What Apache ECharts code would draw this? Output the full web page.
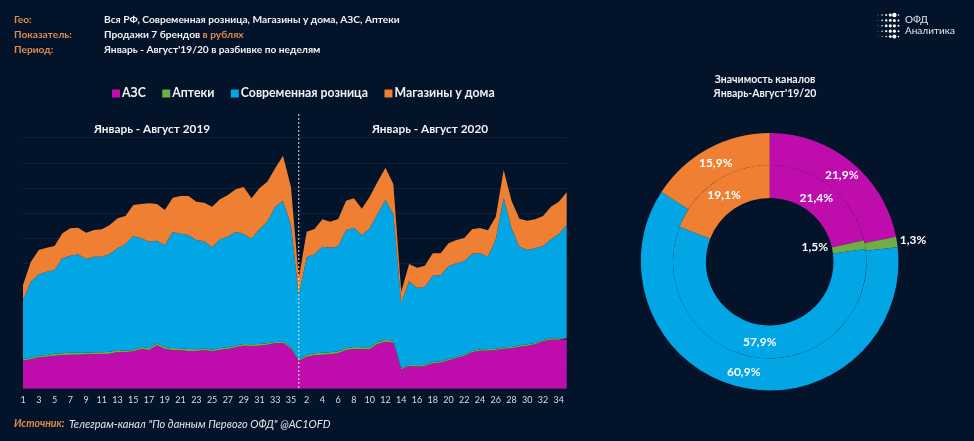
<!DOCTYPE html>
<html>
<head>
<meta charset="utf-8">
<style>
  html, body { margin: 0; padding: 0; background: #02132a; }
  #chart { width: 974px; height: 441px; }
</style>
<script src="https://cdn.jsdelivr.net/npm/echarts@6/dist/echarts.min.js"></script>
</head>
<body>
<div id="chart"></div>
<script>
const FONT = 'Lato, "Open Sans", sans-serif';
const BG = '#02132a';

const channels = ['АЗС', 'Аптеки', 'Современная розница', 'Магазины у дома'];
const channelColors = ['#bf0dad', '#70ad47', '#03a6e4', '#ee7f33'];

// 35 weeks of 2019, then 35 weeks of 2020
const weeks = [];
for (let y = 0; y < 2; y++) {
    for (let w = 1; w <= 35; w++) weeks.push(String(w));
}

// No scale on the original axis
const azs = [
    84, 88, 94, 96, 99, 100, 102, 102, 103, 104, 104, 105, 110, 109, 112, 119, 116, 130, 119, 116, 115, 113, 113, 116, 112, 117, 119, 124, 129, 128, 129, 132, 136, 137, 120,
    83, 96, 100, 102, 103, 106, 116, 119, 118, 118, 134, 141, 138, 58, 68, 66, 68, 76, 78, 85, 92, 98, 109, 114, 114, 116, 120, 121, 126, 129, 133, 142, 147, 147, 148
];
const pharmacy = [
    5, 5, 5, 5, 6, 6, 6, 6, 5, 5, 5, 6, 6, 5, 5, 6, 6, 6, 6, 6, 6, 6, 5, 5, 5, 5, 5, 5, 5, 5, 5, 4, 4, 4, 4,
    4, 6, 6, 6, 6, 6, 6, 6, 6, 6, 6, 6, 6, 4, 4, 4, 4, 4, 4, 4, 4, 4, 4, 4, 4, 4, 4, 4, 4, 4, 4, 4, 4, 4, 4
];
const retail = [
    177, 228, 244, 250, 251, 285, 291, 295, 281, 287, 287, 293, 305, 319, 342, 326, 319, 308, 305, 348, 344, 342, 328, 321, 307, 326, 332, 342, 330, 317, 344, 365, 406, 422, 367,
    194, 292, 297, 318, 314, 315, 354, 358, 336, 357, 384, 419, 380, 194, 251, 232, 234, 259, 258, 278, 280, 280, 292, 288, 278, 328, 449, 356, 296, 284, 284, 282, 297, 313, 339
];
const nearHome = [
    45, 60, 73, 72, 72, 75, 82, 80, 79, 80, 82, 87, 90, 85, 92, 103, 115, 110, 106, 103, 113, 117, 115, 116, 122, 120, 125, 127, 141, 121, 123, 120, 115, 136, 115,
    50, 77, 76, 82, 78, 82, 88, 88, 80, 95, 97, 97, 90, 35, 51, 61, 63, 67, 66, 69, 70, 70, 73, 76, 79, 68, 83, 83, 84, 87, 87, 90, 98, 97, 98
];
const areaValues = [azs, pharmacy, retail, nearHome];

const share2019 = [21.9, 1.3, 60.9, 15.9];
const share2020 = [21.4, 1.5, 57.9, 19.1];

// where the percent labels sit in the original, some are off the ring
const spots2019 = [[841.7, 175], [913, 240], [743.7, 371.7], [715.7, 162.7]];
const spots2020 = [[816.3, 198.3], [814.7, 247], [759.7, 342.3], [724, 195.3]];

const pctLabel = p => p.value.toFixed(1).replace('.', ',') + '%';

const pieSeries = (values, radius, spots) => ({
    type: 'pie',
    center: [769.7, 261.7],
    radius: radius,
    startAngle: 90,
    clockwise: true,
    silent: true,
    animation: false,
    label: { show: true, position: 'inside', formatter: pctLabel, color: '#fff', fontFamily: FONT, fontWeight: 'bold', fontSize: 12 },
    labelLine: { show: false },
    labelLayout: p => ({ x: spots[p.dataIndex][0], y: spots[p.dataIndex][1], align: 'center', verticalAlign: 'middle' }),
    data: values.map((v, i) => ({ name: channels[i], value: v, itemStyle: { color: channelColors[i] } }))
});

const headText = (x, y, text, extra) => ({
    type: 'text',
    x: x,
    y: y,
    silent: true,
    style: Object.assign({
        text: text,
        fill: '#f2f2f2',
        font: 'bold 10.2px ' + FONT,
        textVerticalAlign: 'middle',
        rich: {
            o: { fill: '#e08a4e', font: 'bold 10.2px ' + FONT }
        }
    }, extra || {})
});

const logoDots = [];
const dotSizes = [
    [0.4, 0.7, 1.0, 1.6, 2.2, 0.8],
    [0.4, 0.8, 1.2, 1.4, 1.5, 1.0],
    [0.4, 0.8, 1.4, 1.6, 1.6, 1.0],
    [0.4, 0.7, 1.1, 1.6, 1.6, 1.0],
    [0.3, 0.5, 0.8, 1.4, 2.0, 0.8]
];
dotSizes.forEach((row, r) => row.forEach((size, c) => {
    logoDots.push({
        type: 'circle',
        silent: true,
        shape: { cx: 878 + c * 4.1, cy: 15 + r * 5.4, r: size },
        style: { fill: '#fff' }
    });
}));

const chart = echarts.init(document.getElementById('chart'));
chart.setOption({
    backgroundColor: BG,
    animation: false,
    textStyle: { fontFamily: FONT },
    legend: {
        data: channels,
        left: 112,
        top: 87.5,
        padding: 0,
        icon: 'rect',
        itemWidth: 8,
        itemHeight: 8,
        itemGap: 16.5,
        selectedMode: false,
        textStyle: { color: '#f2f2f2', fontFamily: FONT, fontWeight: 'bold', fontSize: 12.3, padding: [0, 0, 0, -3] }
    },
    grid: { left: 23, right: 407.3, top: 137.7, bottom: 52.3 },
    xAxis: {
        type: 'category',
        data: weeks,
        boundaryGap: false,
        axisLine: { show: false },
        axisTick: { show: false },
        axisLabel: { interval: 1, color: '#d8dde3', fontFamily: FONT, fontSize: 9, margin: 7 }
    },
    yAxis: {
        type: 'value',
        min: 0,
        max: 753,
        interval: 75.3,
        axisLine: { show: false },
        axisTick: { show: false },
        axisLabel: { show: false },
        splitLine: { lineStyle: { color: '#10223a', width: 1 } }
    },
    series: areaValues.map((values, i) => ({
        name: channels[i],
        type: 'line',
        stack: 'total',
        data: values,
        showSymbol: false,
        silent: true,
        color: channelColors[i],
        lineStyle: { width: 0 },
        areaStyle: { color: channelColors[i], opacity: 1 }
    })).concat([
        pieSeries(share2020, [63.8, 96.7], spots2020),
        pieSeries(share2019, [96.7, 128.8], spots2019)
    ]),
    graphic: [
        headText(14, 20, 'Гео:', { fill: '#e08a4e' }),
        headText(14, 35, 'Показатель:', { fill: '#e08a4e' }),
        headText(14, 49.5, 'Период:', { fill: '#e08a4e' }),
        headText(104, 20, 'Вся РФ, Современная розница, Магазины у дома, АЗС, Аптеки'),
        headText(104, 35, 'Продажи 7 брендов {o|в рублях}'),
        headText(104, 49.5, "Январь - Август'19/20 в разбивке по неделям"),
        headText(152, 129, 'Январь - Август 2019', { font: 'bold 11.8px ' + FONT, textAlign: 'center' }),
        headText(430, 129, 'Январь - Август 2020', { font: 'bold 11.8px ' + FONT, textAlign: 'center' }),
        headText(765, 80, 'Значимость каналов', { font: 'bold 10.5px ' + FONT, textAlign: 'center' }),
        headText(765, 94, "Январь-Август'19/20", { font: 'bold 10.5px ' + FONT, textAlign: 'center' }),
        headText(14, 424, 'Источник:', { fill: '#e08a4e', font: 'italic bold 10.5px ' + FONT }),
        headText(69, 424, 'Телеграм-канал "По данным Первого ОФД" @AC1OFD', { fill: '#e4e6e9', font: 'italic 11px ' + FONT }),
        headText(905, 20, 'ОФД', { fill: '#e6e9ee', font: '10px ' + FONT }),
        headText(905, 31, 'Аналитика', { fill: '#e6e9ee', font: '10px ' + FONT })
    ].concat(logoDots)
});

// dotted divider between the two years, goes above the plot up to the headings
const dividerX = chart.convertToPixel({ xAxisIndex: 0 }, 35);
const dividerBottom = chart.convertToPixel({ yAxisIndex: 0 }, 0);
chart.setOption({
    graphic: [{
        id: 'divider',
        type: 'line',
        silent: true,
        z: 50,
        shape: { x1: dividerX, y1: 114, x2: dividerX, y2: dividerBottom },
        style: { stroke: '#e8e8e8', lineWidth: 1, lineDash: [2, 2] }
    }]
});
</script>
</body>
</html>
